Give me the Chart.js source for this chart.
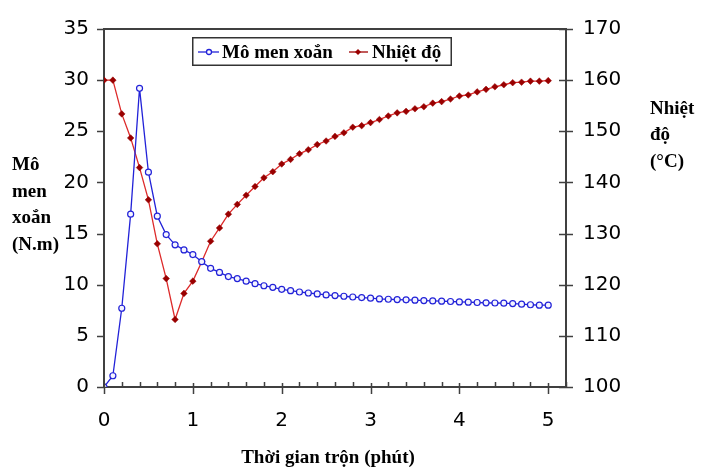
<!DOCTYPE html>
<html>
<head>
<meta charset="utf-8">
<script src="https://cdn.jsdelivr.net/npm/chart.js@4/dist/chart.umd.min.js"></script>
<style>
  html, body { margin: 0; padding: 0; background: #fff; }
  #wrap { width: 704px; height: 470px; }
</style>
</head>
<body>
<div id="wrap"><canvas id="chart" width="704" height="470"></canvas></div>
<script>
// Mixing time (min)
const times = [0, 0.1, 0.2, 0.3, 0.4, 0.5, 0.6, 0.7, 0.8, 0.9,
  1.0, 1.1, 1.2, 1.3, 1.4, 1.5, 1.6, 1.7, 1.8, 1.9,
  2.0, 2.1, 2.2, 2.3, 2.4, 2.5, 2.6, 2.7, 2.8, 2.9,
  3.0, 3.1, 3.2, 3.3, 3.4, 3.5, 3.6, 3.7, 3.8, 3.9,
  4.0, 4.1, 4.2, 4.3, 4.4, 4.5, 4.6, 4.7, 4.8, 4.9, 5.0];

// Torque (N.m) - left axis
const torque = [0, 1.1, 7.7, 16.9, 29.2, 21.0, 16.7, 14.9, 13.9, 13.4,
  12.95, 12.25, 11.6, 11.2, 10.8, 10.6, 10.35, 10.1, 9.9, 9.74,
  9.55, 9.42, 9.29, 9.19, 9.1, 9.0, 8.94, 8.87, 8.8, 8.74,
  8.68, 8.61, 8.58, 8.55, 8.52, 8.49, 8.45, 8.42, 8.39, 8.36,
  8.32, 8.29, 8.26, 8.23, 8.21, 8.2, 8.16, 8.1, 8.04, 8.0, 8.0];

// Temperature (°C) - right axis
const temperature = [160, 160, 153.4, 148.7, 142.9, 136.6, 128, 121.2, 113.2, 118.3,
  120.7, 124.5, 128.5, 131.1, 133.8, 135.7, 137.5, 139.2, 140.9, 142.1,
  143.6, 144.5, 145.6, 146.4, 147.4, 148.1, 149.0, 149.7, 150.8, 151.1,
  151.7, 152.3, 153.0, 153.6, 153.9, 154.4, 154.8, 155.5, 155.8, 156.3,
  156.9, 157.1, 157.7, 158.2, 158.7, 159.1, 159.5, 159.6, 159.8, 159.8, 159.9];

const seriesNames = ["Mô men xoắn", "Nhiệt độ"];
const xTitle = "Thời gian trộn (phút)";
const yTitle = ["Mô", "men", "xoắn", "(N.m)"];
const y1Title = ["Nhiệt", "độ", "(°C)"];

const axisColor = "#404040";
const tickFont = { family: "DejaVu Sans", size: 20 };
const titleFont = "bold 19px 'Liberation Serif'";

// tick marks, top border, axis titles and legend box
const decorations = {
  id: "decorations",
  afterDatasetsDraw(chart) {
    const ctx = chart.ctx;
    const a = chart.chartArea;
    const sx = chart.scales.x, sy = chart.scales.y, sy1 = chart.scales.y1;
    ctx.save();
    ctx.strokeStyle = axisColor;
    ctx.lineWidth = 2;
    ctx.beginPath();
    ctx.moveTo(a.left, a.top);
    ctx.lineTo(a.right, a.top);
    ctx.stroke();

    ctx.lineWidth = 1.5;
    ctx.beginPath();
    for (let v = 0; v <= 35; v += 5) {
      const y = Math.round(sy.getPixelForValue(v)) + 0.5;
      ctx.moveTo(a.left - 7, y);
      ctx.lineTo(a.left, y);
    }
    for (let v = 100; v <= 170; v += 10) {
      const y = Math.round(sy1.getPixelForValue(v)) + 0.5;
      ctx.moveTo(a.right - 7, y);
      ctx.lineTo(a.right + 7, y);
    }
    for (let i = 0; i <= 26; i++) {
      const v = i * 0.2;
      const x = Math.round(sx.getPixelForValue(v)) + 0.5;
      if (i % 5 === 0) {
        ctx.moveTo(x, a.bottom - 4);
        ctx.lineTo(x, a.bottom + 7);
      } else {
        ctx.moveTo(x, a.bottom - 5);
        ctx.lineTo(x, a.bottom);
      }
    }
    ctx.stroke();

    // axis titles
    ctx.fillStyle = "#000";
    ctx.font = titleFont;
    ctx.textBaseline = "middle";
    ctx.textAlign = "left";
    [165, 192, 218, 245].forEach((y, i) => ctx.fillText(yTitle[i], 12, y));
    [109, 135, 162].forEach((y, i) => ctx.fillText(y1Title[i], 650, y));
    ctx.textAlign = "center";
    ctx.fillText(xTitle, 328, 458);

    // legend
    ctx.fillStyle = "#fff";
    ctx.fillRect(193, 38, 258, 27);
    ctx.strokeStyle = "#333";
    ctx.lineWidth = 1.5;
    ctx.strokeRect(192.75, 37.75, 258.5, 27.5);
    const ds = chart.data.datasets;
    const ly = 52;
    ctx.lineWidth = 1.3;
    ctx.strokeStyle = ds[0].borderColor;
    ctx.beginPath(); ctx.moveTo(198, ly); ctx.lineTo(219, ly); ctx.stroke();
    ctx.fillStyle = "#fff";
    ctx.beginPath(); ctx.arc(209, ly, 2.5, 0, Math.PI * 2); ctx.fill(); ctx.stroke();
    ctx.strokeStyle = "#a00000";
    ctx.beginPath(); ctx.moveTo(349, ly); ctx.lineTo(368, ly); ctx.stroke();
    ctx.fillStyle = ds[1].pointBackgroundColor;
    ctx.beginPath();
    ctx.moveTo(358, ly - 3); ctx.lineTo(361, ly); ctx.lineTo(358, ly + 3); ctx.lineTo(355, ly);
    ctx.closePath(); ctx.fill();
    ctx.fillStyle = "#000";
    ctx.textAlign = "left";
    ctx.font = titleFont;
    ctx.fillText(ds[0].label, 222, ly + 1);
    ctx.fillText(ds[1].label, 372, ly + 1);
    ctx.restore();
  }
};

const ctx = document.getElementById("chart").getContext("2d");
new Chart(ctx, {
  type: "line",
  data: {
    datasets: [{
      label: seriesNames[0],
      data: times.map((t, i) => ({ x: t, y: torque[i] })),
      yAxisID: "y",
      borderColor: "#2222d8",
      borderWidth: 1.3,
      pointStyle: "circle",
      pointRadius: 3,
      pointBorderWidth: 1.2,
      pointBorderColor: "#2222d8",
      pointBackgroundColor: "#f4f4ff",
      tension: 0
    }, {
      label: seriesNames[1],
      data: times.map((t, i) => ({ x: t, y: temperature[i] })),
      yAxisID: "y1",
      borderColor: "#dd2a2a",
      borderWidth: 1.3,
      pointStyle: "rectRot",
      pointRadius: 3.3,
      pointBorderWidth: 0.5,
      pointBorderColor: "#990000",
      pointBackgroundColor: "#990000",
      tension: 0
    }]
  },
  options: {
    responsive: false,
    animation: false,
    layout: { padding: { top: 24, left: 0, right: 0, bottom: 0 } },
    plugins: {
      legend: { display: false },
      tooltip: { enabled: false }
    },
    scales: {
      x: {
        type: "linear",
        min: 0,
        max: 5.2,
        afterFit(scale) { scale.height = 83; },
        grid: { display: false, drawTicks: false },
        border: { display: true, color: axisColor, width: 2 },
        ticks: { stepSize: 1, includeBounds: false, padding: 22, color: "#000", font: tickFont, maxRotation: 0 }
      },
      y: {
        position: "left",
        min: 0,
        max: 35,
        afterFit(scale) { scale.width = 104; },
        grid: { display: false, drawTicks: false },
        border: { display: true, color: axisColor, width: 2 },
        ticks: { stepSize: 5, padding: 15, color: "#000", font: tickFont }
      },
      y1: {
        position: "right",
        min: 100,
        max: 170,
        afterFit(scale) { scale.width = 138; },
        grid: { display: false, drawTicks: false },
        border: { display: true, color: axisColor, width: 2 },
        ticks: { stepSize: 10, padding: 17, color: "#000", font: tickFont }
      }
    }
  },
  plugins: [decorations]
});
</script>
</body>
</html>
